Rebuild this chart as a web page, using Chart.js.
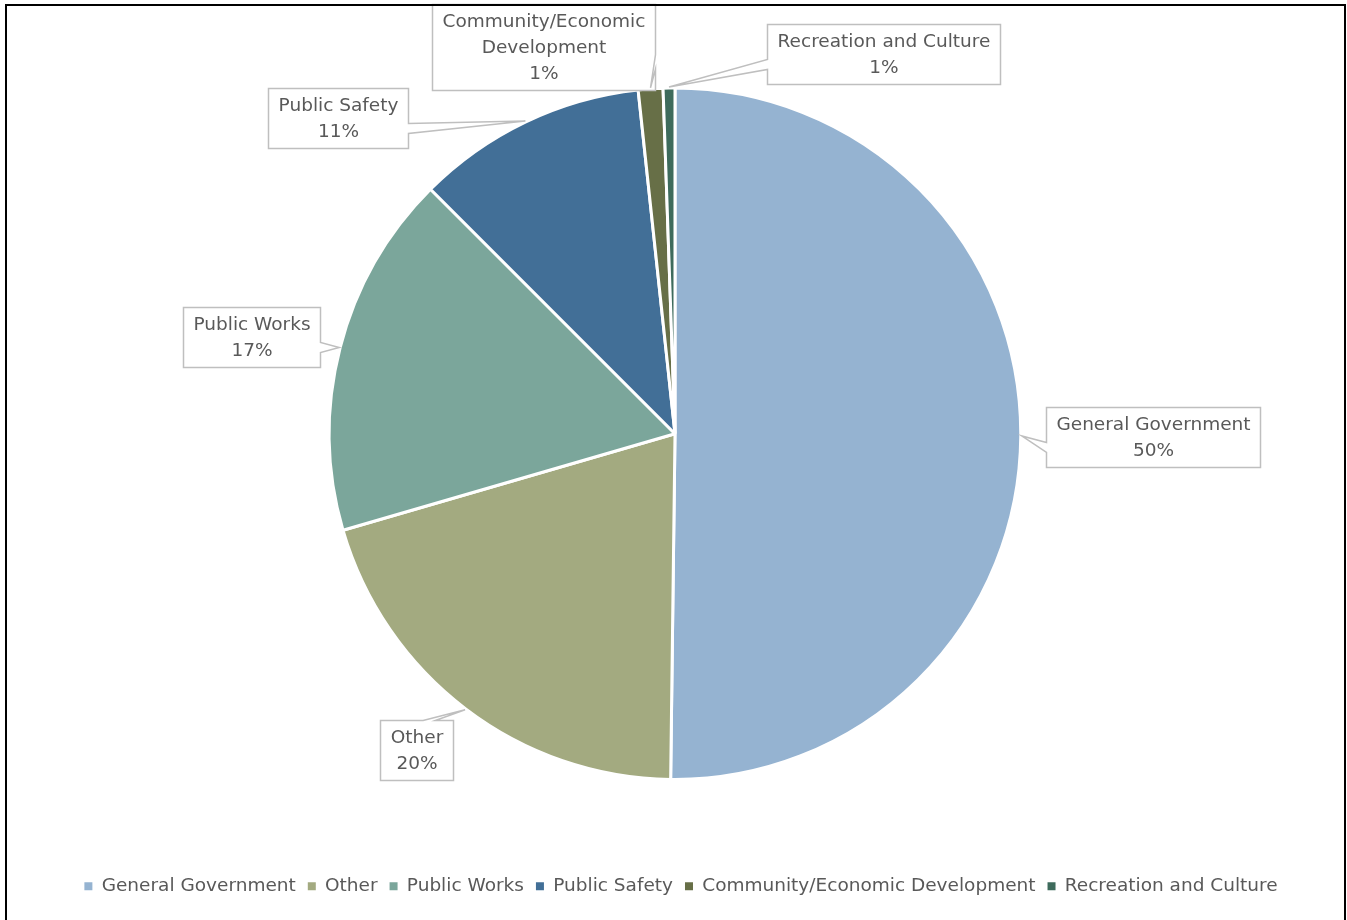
<!DOCTYPE html>
<html>
<head>
<meta charset="utf-8">
<script src="https://cdn.jsdelivr.net/npm/chart.js@4/dist/chart.umd.min.js"></script>
<style>
  html, body { margin: 0; padding: 0; background: #ffffff; }
  canvas { display: block; }
</style>
</head>
<body>
<canvas id="c" width="1347" height="920"></canvas>
<script>
// ---- data ----
const categories = ['General Government', 'Other', 'Public Works', 'Public Safety', 'Community/Economic Development', 'Recreation and Culture'];
const values = [50.2, 20.3, 17.0, 10.8, 1.15, 0.55];
const colors = ['#95B3D1', '#A3AA80', '#7BA69B', '#426F97', '#676F47', '#3E6B5C'];
// callout box centres, in units of the pie radius relative to the pie centre (layout only)
const calloutOffsets = [[1.383, 0.009], [-0.749, 0.915], [-1.225, -0.280], [-0.975, -0.913], [-0.3815, -1.1185], [0.6026, -1.0983]];

const FONT = '"DejaVu Sans", sans-serif';
const TEXT = '#595959';
const FONT_SIZE = 18.5;

function wrapText(ctx, text, maxW) {
  const words = text.split(' ');
  const lines = [];
  let cur = '';
  words.forEach(w => {
    const t = cur ? cur + ' ' + w : w;
    if (cur && ctx.measureText(t).width > maxW) { lines.push(cur); cur = w; }
    else cur = t;
  });
  if (cur) lines.push(cur);
  return lines;
}

const calloutPlugin = {
  id: 'callouts',
  afterLayout(chart) {
    // legend in the reference sits slightly right of the pie centre
    if (chart.legend) { chart.legend.left += 6; chart.legend.right += 6; }
  },
  afterDatasetsDraw(chart) {
    const ctx = chart.ctx;
    const meta = chart.getDatasetMeta(0);
    const total = values.reduce((a, b) => a + b, 0);
    ctx.save();
    ctx.font = FONT_SIZE + 'px ' + FONT;
    const lineH = 26, padX = 10, padY = 4;
    meta.data.forEach((arc, i) => {
      const p = arc.getProps(['x', 'y', 'startAngle', 'endAngle', 'outerRadius'], true);
      const mid = (p.startAngle + p.endAngle) / 2;
      const R = p.outerRadius;
      const tx = p.x + Math.cos(mid) * (R + 1);
      const ty = p.y + Math.sin(mid) * (R + 1);
      const lines = wrapText(ctx, categories[i], 250);
      lines.push(Math.round(values[i] / total * 100) + '%');
      const w = Math.max(...lines.map(l => ctx.measureText(l).width)) + 2 * padX;
      const h = lines.length * lineH + 2 * padY;
      const cx = p.x + calloutOffsets[i][0] * R;
      const cy = p.y + calloutOffsets[i][1] * R;
      const l = Math.round(cx - w / 2) + 0.5, t = Math.round(cy - h / 2) + 0.5;
      const r = l + Math.round(w), b = t + Math.round(h);
      // choose side of the box facing the tip
      const nx = (tx - (l + r) / 2) / ((r - l) / 2);
      const ny = (ty - (t + b) / 2) / ((b - t) / 2);
      let side;
      if (Math.abs(nx) >= Math.abs(ny)) side = nx < 0 ? 'left' : 'right';
      else side = ny < 0 ? 'top' : 'bottom';
      const pts = [];
      const y1 = t + (b - t) * 7 / 12, y2 = t + (b - t) * 9 / 12;
      const x1 = l + (r - l) * 7 / 12, x2 = l + (r - l) * 9 / 12;
      pts.push([l, t]);
      if (side === 'top') { pts.push([x1, t], [tx, ty], [x2, t]); }
      pts.push([r, t]);
      if (side === 'right') { pts.push([r, y1], [tx, ty], [r, y2]); }
      pts.push([r, b]);
      if (side === 'bottom') { pts.push([x2, b], [tx, ty], [x1, b]); }
      pts.push([l, b]);
      if (side === 'left') { pts.push([l, y2], [tx, ty], [l, y1]); }
      ctx.beginPath();
      pts.forEach((pt, k) => k ? ctx.lineTo(pt[0], pt[1]) : ctx.moveTo(pt[0], pt[1]));
      ctx.closePath();
      ctx.fillStyle = '#ffffff';
      ctx.fill();
      ctx.lineWidth = 1.5;
      ctx.strokeStyle = '#BFBFBF';
      ctx.stroke();
      ctx.fillStyle = TEXT;
      ctx.textAlign = 'center';
      ctx.textBaseline = 'middle';
      const startY = (t + b) / 2 - (lines.length - 1) * lineH / 2;
      lines.forEach((ln, k) => ctx.fillText(ln, (l + r) / 2, startY + k * lineH + 1));
    });
    ctx.restore();
  },
  afterDraw(chart) {
    const ctx = chart.ctx;
    ctx.save();
    ctx.strokeStyle = '#000000';
    ctx.lineWidth = 2;
    ctx.beginPath();
    ctx.moveTo(6, 920);
    ctx.lineTo(6, 5);
    ctx.lineTo(1345, 5);
    ctx.lineTo(1345, 920);
    ctx.stroke();
    ctx.restore();
  }
};

new Chart(document.getElementById('c'), {
  type: 'pie',
  data: {
    labels: categories,
    datasets: [{
      data: values,
      backgroundColor: colors,
      borderColor: '#ffffff',
      borderWidth: 3
    }]
  },
  options: {
    responsive: false,
    animation: false,
    devicePixelRatio: 1,
    layout: { padding: { top: 86.5, bottom: 14.5, left: 3, right: 0 } },
    plugins: {
      tooltip: { enabled: false },
      legend: {
        position: 'bottom',
        title: { display: true, text: '', padding: { top: 69.6, bottom: 0 }, font: { size: 12 } },
        labels: {
          boxWidth: 8,
          boxHeight: 8,
          padding: 12,
          color: TEXT,
          font: { family: FONT, size: FONT_SIZE },
          generateLabels(chart) {
            const items = Chart.overrides.pie.plugins.legend.labels.generateLabels(chart);
            return items.map(it => Object.assign(it, { lineWidth: 0, strokeStyle: 'transparent' }));
          }
        }
      }
    }
  },
  plugins: [calloutPlugin]
});
</script>
</body>
</html>
